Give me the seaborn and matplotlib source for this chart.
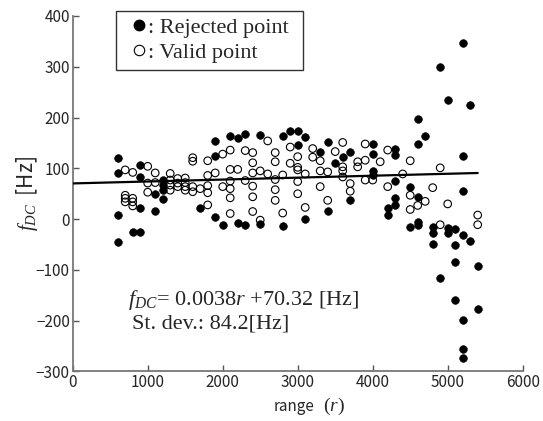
import pandas as pd
import seaborn as sb
import matplotlib.pyplot as plt
from matplotlib.lines import Line2D

# rejected points (filled) : range r, f_DC [Hz]
rej_r = [600, 600, 600, 600, 800, 900, 900, 900, 900, 1100, 1100,
         1200, 1200, 1200, 1200, 1700, 1900, 1900, 1900, 2000, 2100,
         2200, 2200, 2300, 2300, 2500, 2500, 2800, 2800, 2900, 3000, 3000,
         3100, 3100, 3300, 3400, 3400, 3500, 3600, 3700, 3700,
         4000, 4000, 4000, 4000, 4200, 4200, 4300, 4300, 4300, 4300, 4300,
         4500, 4500, 4600, 4600, 4600, 4600, 4600, 4700, 4800, 4800, 4800,
         4900, 4900, 5000, 5000, 5000, 5100, 5100, 5100, 5100,
         5200, 5200, 5200, 5200, 5200, 5200, 5200, 5300, 5300, 5400, 5400]
rej_f = [120, 90, 8, -46, -26, 106, 82, 22, -26, 50, 17,
         77, 67, 57, 39, 22, 153, 125, 5, -11, 164,
         159, -8, 168, -12, 166, -10, 164, -14, 174, 173, 145,
         161, 1, 133, 152, 16, 111, 122, 133, 37,
         148, 129, 94, 87, 22, 8, 139, 126, 76, 41, 28,
         63, -15, 198, 148, 43, -5, -12, 164, -15, -27, -49,
         299, -116, 235, -18, -28, -19, -50, -84, -160,
         347, 124, 56, -31, -199, -255, -273, 225, -44, -93, -176]

# valid points (open)
val_r = [700, 700, 700, 700, 800, 800, 800, 800, 1000, 1000, 1000, 1100, 1100,
         1300, 1300, 1300, 1300, 1400, 1400, 1400, 1500, 1500, 1500, 1500,
         1600, 1600, 1600, 1600, 1700, 1800, 1800, 1800, 1800, 1800, 1900,
         2000, 2000, 2100, 2100, 2100, 2100, 2100, 2100, 2200, 2300, 2300,
         2400, 2400, 2400, 2400, 2400, 2400, 2500, 2500, 2600, 2600,
         2700, 2700, 2700, 2700, 2700, 2800, 2800, 2900, 2900,
         3000, 3000, 3000, 3000, 3000, 3100, 3100, 3200, 3200,
         3300, 3300, 3300, 3400, 3400, 3500, 3600, 3600, 3600, 3600,
         3700, 3700, 3800, 3800, 3900, 3900, 3900, 4000, 4100, 4200, 4200,
         4400, 4500, 4500, 4500, 4600, 4700, 4800, 4900, 4900, 5000, 5400, 5400]
val_f = [97, 47, 41, 34, 92, 41, 34, 26, 104, 71, 53, 91, 72,
         90, 77, 67, 57, 80, 71, 64, 81, 72, 64, 57,
         121, 114, 64, 54, 60, 115, 86, 66, 52, 28, 91,
         128, 64, 136, 98, 75, 60, 42, 11, 98, 135, 76,
         131, 111, 91, 65, 44, 15, 95, -2, 154, 89,
         131, 113, 78, 58, 37, 87, 12, 142, 110,
         123, 102, 97, 74, 50, 89, 23, 139, 122,
         115, 95, 64, 93, 37, 133, 151, 103, 95, 83,
         70, 55, 113, 103, 148, 116, 77, 77, 113, 136, 64,
         89, 115, 47, 19, 27, 35, 62, 101, -11, 30, 8, -11]

# fitted line f_DC = a*r + b
slope = 0.0038
intercept = 70.32

rejected = pd.DataFrame({"r": rej_r, "f": rej_f})
valid = pd.DataFrame({"r": val_r, "f": val_f})
fit = pd.DataFrame({"r": [0, max(rej_r + val_r)]})
fit["f"] = slope * fit["r"] + intercept

sb.set_style("ticks")
plt.rcParams["font.family"] = ["Noto Sans CJK JP", "DejaVu Sans"]
plt.rcParams["mathtext.fontset"] = "custom"
plt.rcParams["mathtext.rm"] = "Liberation Serif"
plt.rcParams["mathtext.it"] = "Liberation Serif:italic"

fig = plt.figure(figsize=(5.43, 4.21), dpi=100)
ax = fig.add_axes([0.1339, 0.1176, 0.8287, 0.8444])

sb.scatterplot(data=valid, x="r", y="f", ax=ax, marker="o", s=30,
               facecolor="none", edgecolor="black", linewidth=0.8, zorder=2)
sb.scatterplot(data=rejected, x="r", y="f", ax=ax, marker="o", s=30,
               color="black", edgecolor="black", linewidth=0.5, zorder=3)
sb.lineplot(data=fit, x="r", y="f", ax=ax, color="black", linewidth=1.6, zorder=4)

ax.set_xlim(0, 6000)
ax.set_ylim(-300, 400)
ax.set_xticks(range(0, 6001, 1000))
ax.set_yticks(range(-300, 401, 100))
sb.despine(ax=ax)
for side in ["left", "bottom"]:
    ax.spines[side].set_color("#777777")
    ax.spines[side].set_linewidth(1.3)
ax.tick_params(direction="in", length=4, width=1, color="#555555",
               labelsize=11, pad=2)

# axis titles
ax.set_xlabel("")
ax.text(0.538, -0.111, "range", transform=ax.transAxes, ha="right",
        va="baseline", fontsize=11)
ax.text(0.556, -0.111, "$(r)$", transform=ax.transAxes, ha="left",
        va="baseline", fontsize=14)
ax.set_ylabel("$f_{DC}$  [Hz]", fontsize=15)
ax.yaxis.set_label_coords(-0.073, 0.5)

handles = [Line2D([], [], marker="o", linestyle="none", markersize=7.5,
                  markerfacecolor="black", markeredgecolor="black"),
           Line2D([], [], marker="o", linestyle="none", markersize=7.5,
                  markerfacecolor="none", markeredgecolor="black", markeredgewidth=0.8)]
leg = ax.legend(handles, [": Rejected point", ": Valid point"],
                loc="upper left", bbox_to_anchor=(0.0964, 1.014, 0.4163, 0.0),
                mode="expand",
                prop={"family": "Liberation Serif", "size": 16},
                frameon=True, fancybox=False, edgecolor="black",
                handlelength=1.45, handletextpad=-0.3, borderpad=0.3,
                labelspacing=0.2, borderaxespad=0)
leg.get_frame().set_linewidth(1.0)

ax.text(0.123, 0.187, "$f_{DC}$= 0.0038$r$ +70.32 [Hz]", transform=ax.transAxes,
        fontsize=16, family="Liberation Serif", va="baseline")
ax.text(0.131, 0.12, "St. dev.: 84.2[Hz]", transform=ax.transAxes,
        fontsize=16, family="Liberation Serif", va="baseline")

plt.savefig("out.png", dpi=100)
